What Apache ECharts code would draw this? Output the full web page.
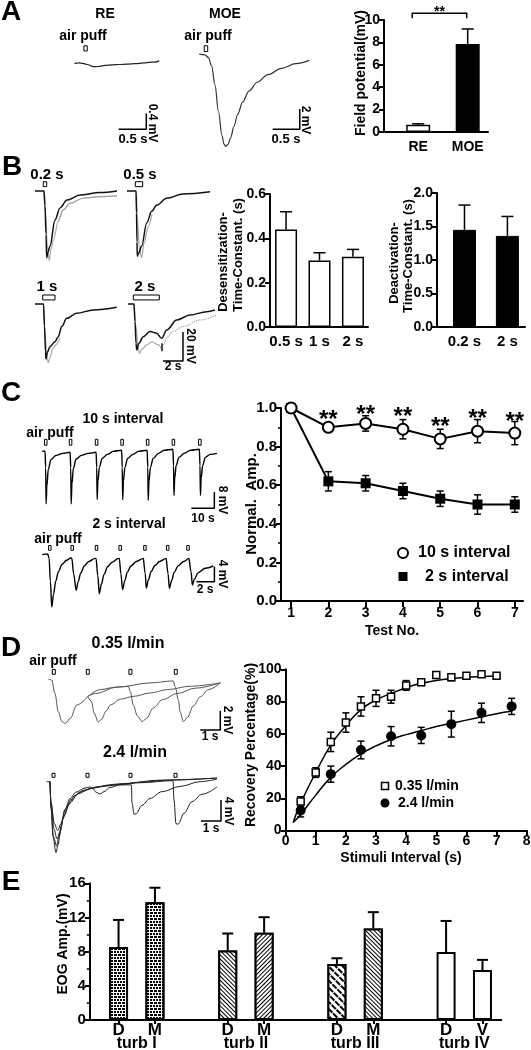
<!DOCTYPE html>
<html>
<head>
<meta charset="utf-8">
<script src="https://cdn.jsdelivr.net/npm/echarts@6.0.0/dist/echarts.min.js"></script>
<style>
html,body{margin:0;padding:0;background:#fff;}
#chart{width:531px;height:1050px;}
</style>
</head>
<body>
<div id="chart"></div>
<script>
// ================= DATA =================
// ---- Panel A ----
const fieldCats = ['RE', 'MOE'];
const fieldMean = [0.65, 7.85];
const fieldErr = [0.08, 1.35];
const fieldSig = [-0.12, 0.98, 10.6, 10.15];          // bracket x0, x1, top, tick end
const reTrace = [[0,0],[0.08,0.01],[0.15,0.0],[0.23,-0.03],[0.34,-0.085],[0.43,-0.08],[0.55,-0.05],[0.68,-0.04],[0.8,-0.03],[0.95,-0.02],[1.1,-0.01],[1.25,0.01],[1.35,0.025],[1.45,0.03],[1.53,0.06]];
const moeTrace = [[0,0],[0.107,-0.07],[0.17,-0.33],[0.23,-1.17],[0.29,-2.99],[0.356,-5.65],[0.42,-7.97],[0.46,-8.85],[0.49,-9.03],[0.53,-8.85],[0.58,-8.2],[0.64,-7.1],[0.71,-5.9],[0.8,-4.7],[0.92,-3.6],[1.07,-2.75],[1.27,-2.0],[1.52,-1.38],[1.78,-0.92],[2.03,-0.6]];
const stimRE = [0.17, 0.06, 0.31, 0.44];              // start(s), duration(s), low, high (mV)
const stimMOE = [0.094, 0.063, 0.26, 0.83];
const scaleRE = [0.796, -1.66, 0.5, 0.4];             // t, v, 0.5 s, 0.4 mV
const scaleMOE = [1.356, -7.37, 0.5, 2];

// ---- Panel B ----
const desCats = ['0.5 s', '1 s', '2 s'];
const desMean = [0.44, 0.30, 0.317];
const desErr = [0.08, 0.035, 0.033];
const deaCats = ['0.2 s', '2 s'];
const deaMean = [1.45, 1.36];
const deaErr = [0.37, 0.29];
const b02Black = [[0,0],[0.9,0],[1.0,-10],[1.1,-30],[1.17,-46],[1.3,-42],[1.5,-38],[2.0,-20],[2.5,-11.7],[3.2,-6.2],[4.5,-2.8],[6.5,-1.1],[8.2,0]];
const b02Gray = [[0.9,0],[1.05,-15],[1.25,-40],[1.43,-48],[1.6,-40],[1.83,-34],[2.33,-21],[2.83,-13],[3.5,-8.5],[4.8,-5],[6.5,-3.9],[8.2,-3.4]];
const b05Black = [[0,0],[0.9,0],[0.95,-15],[1.0,-35],[1.03,-45],[1.15,-43],[1.47,-38],[1.97,-22],[2.47,-14],[2.97,-9.7],[3.97,-5],[5.6,-2],[8.3,-0.5]];
const b05Gray = [[0.95,0],[1.05,-20],[1.25,-40],[1.47,-46],[1.7,-36],[2.13,-24.6],[2.5,-16]];
const b1Black = [[0,0],[0.85,0],[0.95,-15],[1.05,-33],[1.1,-38],[1.25,-33],[1.5,-29.4],[2.0,-26],[2.33,-22.5],[2.67,-15.6],[3.17,-9.9],[4.17,-6.4],[5.83,-4.1],[8.17,-2.3]];
const b1Gray = [[0.85,0],[1.0,-20],[1.2,-37],[1.33,-40.5],[1.5,-37],[1.75,-31],[2.1,-28],[2.5,-23.4]];
const b2Black = [[0,0],[0.6,0],[0.7,-12],[0.8,-27],[0.87,-31.7],[1.1,-27],[1.53,-22.5],[2.2,-19],[2.87,-20.2],[3.37,-23.7],[3.87,-18],[4.87,-11],[6.2,-7.6],[7.87,-5.3],[8.7,-4.1]];
const b2Gray = [[0.6,0],[0.8,-15],[1.0,-30],[1.13,-34],[1.4,-31],[1.9,-28],[2.4,-26],[3.0,-28],[3.4,-31.7]];
const b2GrayTail = [[3.4,-31.7],[3.6,-27],[3.9,-23],[4.5,-19],[5.5,-15.6],[7.2,-11],[8.87,-7.6]];
const b2Arrow = [[3.4,-32.5],[3.4,-27]];
const stimStartB = [0.83, 0.83, 0.77, 0.53];
const stimDurB = [0.34, 0.74, 1.23, 2.6];
const scaleB = [3.5, -39.3, 2, 20];

// ---- Panel C ----
const testNo = [1, 2, 3, 4, 5, 6, 7];
const amp10 = [1.0, 0.90, 0.92, 0.89, 0.84, 0.88, 0.87];
const err10 = [0, 0.02, 0.04, 0.05, 0.05, 0.06, 0.06];
const amp2 = [1.0, 0.62, 0.61, 0.57, 0.53, 0.50, 0.50];
const err2 = [0, 0.05, 0.04, 0.04, 0.04, 0.05, 0.04];
const starY = [null, 0.972, 0.998, 0.986, 0.934, 0.976, 0.964];
const trace10s = [[0,0],[1.2,0],[1.45,-8],[1.65,-25.9],[2.0,-17],[2.6,-9],[3.8,-4],[6,-2],[9,-1],[12.1,-0.5],
  [12.35,-8],[12.55,-25.9],[12.9,-16],[13.5,-8.5],[14.7,-3.8],[17,-2],[20,-1],[23.4,-0.5],
  [23.65,-8],[23.85,-23.7],[24.2,-14.5],[24.8,-8],[26,-3.5],[28.3,-1.5],[31,0],[34.5,0.5],
  [34.75,-8],[34.95,-23.8],[35.3,-14.5],[35.9,-8],[37.1,-3.5],[39.4,-1.5],[42,0],[45.6,0.5],
  [45.85,-8],[46.05,-24.2],[46.4,-14.5],[47,-8],[48.2,-3.5],[50.5,-1],[53,0.5],[56.8,1],
  [57.05,-7],[57.25,-21.7],[57.6,-13],[58.2,-7],[59.4,-3],[61.7,-1],[64.5,0.5],[68.3,1],
  [68.55,-7],[68.75,-21.7],[69.1,-13],[69.7,-7],[70.9,-3],[73,-1.5],[75.9,-1]];
const stim10s = [0.95, 11.75, 23.05, 34.15, 45.25, 56.45, 67.95];
const trace2s = [[0,0],[0.6,0.2],[0.76,-1],[0.9,-7],[1.06,-13.8],[1.25,-10.5],[1.5,-7],[1.8,-4.5],[2.2,-2.6],[2.7,-1.5],[3.2,-0.9],
  [3.3,-1],[3.5,-5],[3.79,-9.4],[4.0,-7.2],[4.3,-4.8],[4.7,-3],[5.2,-1.8],[5.9,-1],
  [6.0,-1],[6.2,-5.5],[6.37,-10.3],[6.6,-7.8],[6.9,-5.2],[7.3,-3.2],[7.8,-2],[8.5,-1],
  [8.6,-1],[8.78,-5],[8.97,-9.2],[9.2,-7],[9.5,-4.6],[9.9,-3],[10.5,-1.8],[11.3,-1],
  [11.36,-1],[11.5,-5],[11.62,-8.8],[11.85,-6.7],[12.15,-4.5],[12.6,-2.8],[13.1,-1.8],[13.85,-1],
  [13.9,-1],[14.05,-5],[14.2,-8.9],[14.45,-6.8],[14.75,-4.6],[15.2,-2.9],[15.8,-1.8],[16.4,-1],
  [16.47,-1],[16.62,-4.5],[16.77,-8.0],[17.0,-6.4],[17.4,-4.8],[18.2,-3.6],[19.1,-3.0]];
const stim2s = [0.7, 3.2, 5.92, 8.56, 11.33, 13.87, 16.14];
const scaleC10 = [64.8, -28, 10, 8];
const scaleC2 = [17.23, -7.13, 2, 4];

// ---- Panel D ----
const intervals035 = [0.5, 1, 1.5, 2, 2.5, 3, 3.5, 4, 4.5, 5, 5.5, 6, 6.5, 7];
const rec035 = [18, 36, 55, 67, 77, 82, 83, 90, 92, 96.5, 95, 96, 97, 96];
const err035 = [3, 3, 6, 6, 6, 5, 4, 3, 2, 0.5, 2, 1, 0.5, 1];
const intervals24 = [0.5, 1.5, 2.5, 3.5, 4.5, 5.5, 6.5, 7.5];
const rec24 = [12.5, 35, 50, 58.5, 59, 66, 73, 77];
const err24 = [4, 5, 5.5, 6, 5, 8, 6, 5];
const fitT035 = [0.25, 0.5, 1, 1.5, 2, 2.5, 3, 3.5, 4, 4.5, 5, 5.5, 6, 6.5, 7];
const fit035 = [5, 17, 36, 53, 65, 75, 81, 85, 88.6, 91.3, 93, 94.2, 95, 95.5, 95.9];
const fitT24 = [0.25, 0.5, 1, 1.5, 2, 2.5, 3, 3.5, 4, 4.5, 5, 5.5, 6, 6.5, 7, 7.5];
const fit24 = [5, 10, 22, 33, 41, 47.5, 52.5, 56.5, 59.5, 62, 64.5, 66.5, 68.5, 70.5, 72.5, 74];
const d035Common = [[0,0],[0.17,-0.1],[0.33,-1.48],[0.5,-3.39],[0.68,-4.43],[0.85,-4.6],[1.1,-4.07],[1.43,-2.69],[1.97,-1.83]];
const d035A = [[1.97,-1.83],[2.15,-2.3],[2.3,-3.6],[2.5,-4.45],[2.65,-4.2],[2.9,-3.3],[3.1,-2.7],[3.6,-2.1],[4.25,-1.8],[5.1,-1.45],[5.95,-1.1],[7.1,-0.75],[8.6,-0.4]];
const d035B = [[1.97,-1.83],[2.6,-1.1],[3.35,-0.85],[4.0,-0.75],[4.1,-1.3],[4.25,-2.7],[4.45,-3.8],[4.7,-4.42],[4.9,-4.1],[5.25,-3.0],[5.7,-2.15],[6.45,-1.5],[7.35,-0.95],[8.6,-0.4]];
const d035C = [[1.97,-1.83],[2.35,-1.5],[3.45,-0.85],[5.1,-0.4],[6.25,-0.2],[6.35,-0.85],[6.5,-2.15],[6.6,-3.45],[6.75,-4.42],[6.95,-4.0],[7.25,-2.8],[7.6,-1.85],[8.0,-1.1],[8.6,-0.4]];
const d24A = [[-0.17,0],[0,0],[0.05,-5],[0.15,-10.5],[0.3,-13.5],[0.4,-12],[0.55,-8.5],[0.75,-5.2],[1.0,-3.2],[1.3,-2],[1.75,-1.2],[2.0,-1],[2.15,-1.3],[2.3,-2],[2.5,-2.35],[2.7,-1.9],[3.0,-1.1],[3.5,-0.6],[4.5,-0.1],[6,0.3],[8.35,0.7]];
const d24B = [[0,0],[0.05,-5],[0.18,-10.5],[0.32,-12.2],[0.45,-10.5],[0.65,-7],[0.9,-4.5],[1.25,-2.6],[1.7,-1.6],[2.5,-0.9],[3.5,-0.6],[4.07,-0.6],[4.1,-4],[4.2,-6.2],[4.3,-6.1],[4.6,-4.5],[5.0,-3.2],[5.6,-1.9],[6.5,-0.9],[7.5,0],[8.35,0.5]];
const d24C = [[0,0],[0.05,-4],[0.2,-9],[0.35,-10.9],[0.5,-9.5],[0.7,-6.5],[1.0,-4],[1.4,-2.3],[2,-1.3],[3,-0.6],[4.5,-0.2],[6.15,0.2],[6.2,-3.5],[6.3,-8],[6.4,-8.1],[6.7,-6],[7.1,-3.8],[7.6,-2.4],[8.35,-1]];
const d24D = [[0,0],[0.05,-4],[0.22,-8],[0.38,-9.3],[0.55,-8],[0.75,-5.5],[1.05,-3.4],[1.5,-2],[2.2,-1.1],[3.5,-0.4],[5.5,0.3],[8.35,0.7]];
const stimD035 = [0.2, 1.9, 4.03, 6.3];
const stimD24 = [0.1, 1.8, 3.95, 6.2];
const scaleD035 = [7.6, -5.28, 1, 2];
const scaleD24 = [7.55, -7.49, 1, 4];

// ---- Panel E ----
const eogLabels = ['D', 'M', 'D', 'M', 'D', 'M', 'D', 'V'];
const eogGroups = ['turb I', 'turb II', 'turb III', 'turb IV'];
const eogMean = [8.54, 13.78, 8.14, 10.2, 6.55, 10.72, 7.94, 5.84];
const eogErr = [3.17, 1.7, 1.98, 1.83, 0.67, 1.9, 3.65, 1.19];
const eogPattern = ['cross', 'cross', 'diagA', 'diagB', 'diagC', 'diagA', 'none', 'none'];

// ================= BUILD =================
const FONT = '"Liberation Sans", Arial, Helvetica, sans-serif';
const grids = [], xAxes = [], yAxes = [], series = [], gfx = [];

function addGrid(g, xa, ya) {
  const i = grids.length;
  grids.push(Object.assign({ containLabel: false, outerBoundsMode: 'none' }, g));
  xAxes.push(Object.assign({ gridIndex: i }, xa));
  yAxes.push(Object.assign({ gridIndex: i }, ya));
  return i;
}
function hiddenAx(min, max) { return { type: 'value', min, max, show: false }; }
function traceGrid(ox, oy, sx, sy, t0, t1, v0, v1) {
  return addGrid({ left: ox + t0 * sx, top: oy - v1 * sy, width: (t1 - t0) * sx, height: (v1 - v0) * sy },
    hiddenAx(t0, t1), hiddenAx(v0, v1));
}
function realAx(o) {
  const ax = {
    type: 'value', min: o.min, max: o.max,
    axisLine: { show: true, onZero: false, lineStyle: { color: '#000', width: 2 } },
    axisTick: { show: o.ticks !== false, length: o.tickLen || 5, lineStyle: { color: '#000', width: 2 } },
    minorTick: { show: !!o.minor, splitNumber: o.minor || 2, length: 3, lineStyle: { color: '#000', width: 1.5 } },
    axisLabel: { show: true, color: '#000', fontWeight: 'bold', fontSize: o.fs || 14, fontFamily: FONT, margin: o.margin || 4, showMinLabel: true, showMaxLabel: true },
    splitLine: { show: false }, minorSplitLine: { show: false }
  };
  if (o.interval != null) ax.interval = o.interval;
  if (o.tickVals) ax.axisTick.customValues = o.tickVals;
  if (o.labelVals) ax.axisLabel.customValues = o.labelVals;
  if (o.fmt) ax.axisLabel.formatter = o.fmt;
  return ax;
}
function traceLine(gi, data, color, width, type) {
  series.push({ type: 'line', xAxisIndex: gi, yAxisIndex: gi, data, symbol: 'none', showSymbol: false,
    smooth: 0.35, smoothMonotone: 'x', lineStyle: { color, width, type: type || 'solid' }, silent: true, clip: false, z: 3, animation: false });
}
function polyLine(gi, data, width, color) {
  series.push({ type: 'line', xAxisIndex: gi, yAxisIndex: gi, data, symbol: 'none', showSymbol: false,
    smooth: false, lineStyle: { color: color || '#000', width }, silent: true, clip: false, z: 3, animation: false });
}
function scaleBar(gi, sb) {
  const [t, v, dt, dv] = sb;
  polyLine(gi, [[t, v], [t + dt, v], [t + dt, v + dv]], 1.5);
}
function stimRects(gi, starts, durs, vLo, vHi) {
  series.push({ type: 'custom', xAxisIndex: gi, yAxisIndex: gi, silent: true, clip: false, z: 4,
    data: starts.map((s, i) => [s, s + (Array.isArray(durs) ? durs[i] : durs), vLo, vHi]),
    encode: { x: [0, 1], y: [2, 3] },
    renderItem(params, api) {
      const a = api.coord([api.value(0), api.value(3)]);
      const b = api.coord([api.value(1), api.value(2)]);
      const w = Math.max(b[0] - a[0], 2.5);
      return { type: 'rect', shape: { x: a[0], y: a[1], width: w, height: b[1] - a[1] },
        style: { fill: '#fff', stroke: '#000', lineWidth: 1 } };
    } });
}
function errBars(gi, rows, cap, both, lw, z) {
  series.push({ type: 'custom', xAxisIndex: gi, yAxisIndex: gi, silent: true, clip: false, z: z || 4,
    data: rows, encode: { x: 0, y: [1, 2] },
    renderItem(params, api) {
      const x = api.value(0), lo = api.value(1), hi = api.value(2);
      const a = api.coord([x, lo]), b = api.coord([x, hi]);
      const st = () => ({ stroke: '#000', lineWidth: lw });
      const ch = [
        { type: 'line', shape: { x1: a[0], y1: a[1], x2: b[0], y2: b[1] }, style: st() },
        { type: 'line', shape: { x1: b[0] - cap / 2, y1: b[1], x2: b[0] + cap / 2, y2: b[1] }, style: st() }];
      if (both) ch.push({ type: 'line', shape: { x1: a[0] - cap / 2, y1: a[1], x2: a[0] + cap / 2, y2: a[1] }, style: st() });
      return { type: 'group', children: ch };
    } });
}
function dataText(gi, rows, textFn, size, dy, z) {
  series.push({ type: 'custom', xAxisIndex: gi, yAxisIndex: gi, silent: true, clip: false, z: z || 6,
    data: rows, encode: { x: 0, y: 1 },
    renderItem(params, api) {
      const p = api.coord([api.value(0), api.value(1)]);
      return { type: 'text', x: p[0], y: p[1] + dy,
        style: { text: textFn(params.dataIndex), font: 'bold ' + size + 'px ' + FONT, fill: '#000', textAlign: 'center', textVerticalAlign: 'middle' } };
    } });
}
function txt(text, x, y, size, rot, align) {
  gfx.push({ type: 'text', x, y, rotation: rot || 0, z: 100, silent: true,
    style: { text, fill: '#000', font: 'bold ' + size + 'px ' + FONT, textAlign: align || 'center', textVerticalAlign: 'middle' } });
}
const UP = Math.PI / 2, DOWN = -Math.PI / 2;

// ---------- Panel A ----------
txt('A', 11, 12, 28);
const gRE = traceGrid(74.5, 63.3, 55.4, 39.8, -0.1, 1.8, -1.9, 0.7);
traceLine(gRE, reTrace, '#222', 1.2);
stimRects(gRE, [stimRE[0]], [stimRE[1]], stimRE[2], stimRE[3]);
scaleBar(gRE, scaleRE);
txt('RE', 105, 14, 14); txt('air puff', 83, 36, 14);
txt('0.5 s', 133, 139, 13); txt('0.4 mV', 152, 123, 12, DOWN);

const gMOE = traceGrid(199.2, 54.2, 54.2, 10.2, -0.1, 2.1, -10, 1.2);
traceLine(gMOE, moeTrace, '#333', 1.2);
stimRects(gMOE, [stimMOE[0]], [stimMOE[1]], stimMOE[2], stimMOE[3]);
scaleBar(gMOE, scaleMOE);
txt('MOE', 225, 14, 14); txt('air puff', 208, 36, 14);
txt('0.5 s', 286, 139, 13); txt('2 mV', 305, 120, 12, DOWN);

const gA = addGrid({ left: 384, top: 20, width: 104, height: 112 },
  realAx({ min: -0.69, max: 1.41, ticks: false, labelVals: [0, 1], fmt: v => fieldCats[Math.round(v)] || '', fs: 14, margin: 8 }),
  realAx({ min: 0, max: 10, interval: 2, fs: 14 }));
series.push({ type: 'bar', xAxisIndex: gA, yAxisIndex: gA, barWidth: 24, silent: true, z: 3,
  data: fieldMean.map((m, i) => ({ value: [i, m], itemStyle: { color: i ? '#000' : '#fff', borderColor: '#000', borderWidth: 1.5 } })) });
errBars(gA, fieldMean.map((m, i) => [i, m, m + fieldErr[i]]), 12, false, 1.5);
series.push({ type: 'custom', xAxisIndex: gA, yAxisIndex: gA, silent: true, clip: false, z: 5,
  data: [fieldSig], encode: { x: [0, 1], y: [2, 3] },
  renderItem(params, api) {
    const x0 = api.value(0), x1 = api.value(1), yt = api.value(2), ye = api.value(3);
    const pts = [api.coord([x0, ye]), api.coord([x0, yt]), api.coord([x1, yt]), api.coord([x1, ye])];
    const mid = api.coord([(x0 + x1) / 2, yt]);
    return { type: 'group', children: [
      { type: 'polyline', shape: { points: pts }, style: { stroke: '#000', lineWidth: 1.5, fill: null } },
      { type: 'text', x: mid[0], y: mid[1] - 1, style: { text: '**', font: 'bold 14px ' + FONT, fill: '#000', textAlign: 'center', textVerticalAlign: 'middle' } }] };
  } });
txt('Field potential(mV)', 361, 73, 14, UP);

// ---------- Panel B ----------
txt('B', 12, 167, 28);
const bOrig = [[35, 191], [127, 191], [35, 304], [128, 304]];
const bBlack = [b02Black, b05Black, b1Black, b2Black];
const bGray = [b02Gray, b05Gray, b1Gray, b2Gray];
const gBs = bOrig.map(o => traceGrid(o[0], o[1], 10, 1.45, -0.2, 9, -52, 8));
gBs.forEach((g, i) => {
  traceLine(g, bGray[i], '#a8a8a8', 1.2);
  traceLine(g, bBlack[i], '#111', 1.5);
  stimRects(g, [stimStartB[i]], [stimDurB[i]], i < 2 ? 3.0 : 2.8, i < 2 ? 6.4 : 6.2);
});
traceLine(gBs[3], b2GrayTail, '#999', 1.2, 'dotted');
traceLine(gBs[0], b02Gray.slice(6), '#999', 1.2, 'dotted');
polyLine(gBs[3], b2Arrow, 1.3);
scaleBar(gBs[3], scaleB);
txt('0.2 s', 47, 175, 15); txt('0.5 s', 140, 175, 15);
txt('1 s', 47, 287, 15); txt('2 s', 145, 287, 15);
txt('20 mV', 190, 346, 12, DOWN); txt('2 s', 173, 367, 12);

const gDes = addGrid({ left: 270, top: 194, width: 98, height: 133 },
  realAx({ min: -0.48, max: 2.45, ticks: false, labelVals: [0, 1, 2], fmt: v => desCats[Math.round(v)] || '', fs: 15, margin: 7 }),
  realAx({ min: 0, max: 0.6, interval: 0.2, fmt: v => v.toFixed(1), fs: 14 }));
series.push({ type: 'bar', xAxisIndex: gDes, yAxisIndex: gDes, barWidth: 22, silent: true, z: 3,
  data: desMean.map((m, i) => [i, m]), itemStyle: { color: '#fff', borderColor: '#000', borderWidth: 1.5 } });
errBars(gDes, desMean.map((m, i) => [i, m, m + desErr[i]]), 12, false, 1.5);
txt('Desensitization-', 223, 262, 13, UP);
txt('Time-Constant. (s)', 238, 255, 13, UP);

const gDea = addGrid({ left: 437, top: 193, width: 88, height: 134 },
  realAx({ min: -0.64, max: 1.41, ticks: false, labelVals: [0, 1], fmt: v => deaCats[Math.round(v)] || '', fs: 15, margin: 7 }),
  realAx({ min: 0, max: 2, interval: 0.5, fmt: v => v.toFixed(1), fs: 14 }));
series.push({ type: 'bar', xAxisIndex: gDea, yAxisIndex: gDea, barWidth: 23, silent: true, z: 3,
  data: deaMean.map((m, i) => [i, m]), itemStyle: { color: '#000', borderColor: '#000', borderWidth: 1 } });
errBars(gDea, deaMean.map((m, i) => [i, m, m + deaErr[i]]), 12, false, 1.5);
txt('Deactivation-', 394, 263, 13, UP);
txt('Time-Constant. (s)', 408, 256, 13, UP);

// ---------- Panel C ----------
txt('C', 11, 393, 28);
const gC10 = traceGrid(42.3, 451.3, 2.3, 2.03, -0.5, 77, -30, 7);
traceLine(gC10, trace10s, '#000', 1.4);
stimRects(gC10, stim10s, 1.1, 3.0, 5.9);
scaleBar(gC10, scaleC10);
const gC2 = traceGrid(42.3, 554.6, 8.95, 3.8, -0.3, 19.5, -15, 3);
traceLine(gC2, trace2s, '#000', 1.4);
stimRects(gC2, stim2s, 0.28, 1.16, 2.4);
scaleBar(gC2, scaleC2);
txt('10 s interval', 123, 419, 14); txt('air puff', 50, 433, 14);
txt('8 mV', 222, 500, 12, DOWN); txt('10 s', 203, 519, 12);
txt('2 s interval', 129, 524, 14); txt('air puff', 58, 539, 14);
txt('4 mV', 222, 574, 12, DOWN); txt('2 s', 205, 590, 12);

const gC = addGrid({ left: 281, top: 408, width: 242, height: 193 },
  realAx({ min: 0.73, max: 7.22, tickVals: testNo, labelVals: testNo, fs: 14, tickLen: 6, margin: 5 }),
  realAx({ min: 0, max: 1, interval: 0.2, minor: 2, fmt: v => v.toFixed(1), fs: 15 }));
series.push({ type: 'line', xAxisIndex: gC, yAxisIndex: gC, data: testNo.map((x, i) => [x, amp2[i]]),
  symbol: 'rect', symbolSize: 10, showSymbol: true, itemStyle: { color: '#000' }, lineStyle: { color: '#000', width: 2 }, z: 5, silent: true });
errBars(gC, testNo.map((x, i) => [x, amp2[i] - err2[i], amp2[i] + err2[i]]), 7, true, 1.5, 4);
errBars(gC, testNo.map((x, i) => [x, amp10[i] - err10[i], amp10[i] + err10[i]]), 7, true, 1.5, 6);
series.push({ type: 'line', xAxisIndex: gC, yAxisIndex: gC, data: testNo.map((x, i) => [x, amp10[i]]),
  symbol: 'circle', symbolSize: 11, showSymbol: true, itemStyle: { color: '#fff', borderColor: '#000', borderWidth: 2 }, lineStyle: { color: '#000', width: 2 }, z: 7, silent: true });
dataText(gC, testNo.map((x, i) => [x, starY[i]]).filter(r => r[1] != null), () => '**', 24, 7, 8);
txt('Normal.  Amp.', 252, 504, 15, UP);
txt('Test No.', 392, 631, 14);
gfx.push({ type: 'circle', shape: { cx: 403, cy: 553, r: 5 }, style: { fill: '#fff', stroke: '#000', lineWidth: 2 }, z: 100 });
gfx.push({ type: 'rect', shape: { x: 398.5, y: 572, width: 9, height: 9 }, style: { fill: '#000' }, z: 100 });
txt('10 s interval', 418, 553, 16, 0, 'left');
txt('2 s interval', 425, 577, 16, 0, 'left');

// ---------- Panel D ----------
txt('D', 11, 648, 28);
const gD1 = traceGrid(48.3, 679, 20, 9.65, -0.2, 8.7, -5.6, 1.2);
[d035Common, d035A, d035B, d035C].forEach(d => traceLine(gD1, d, '#555', 1));
stimRects(gD1, stimD035, 0.15, 0.49, 1.0);
scaleBar(gD1, scaleD035);
const gD2 = traceGrid(50, 781.7, 20, 5.25, -0.3, 8.6, -14, 2);
[d24A, d24B, d24C, d24D].forEach(d => traceLine(gD2, d, '#222', 1));
stimRects(gD2, stimD24, 0.15, 0.84, 1.6);
scaleBar(gD2, scaleD24);
txt('0.35 l/min', 128, 644, 16); txt('air puff', 53, 661, 14);
txt('2 mV', 227, 720, 12, DOWN); txt('1 s', 210, 737, 12);
txt('2.4 l/min', 135, 753, 16);
txt('4 mV', 228, 811, 12, DOWN); txt('1 s', 211, 829, 12);

const gD = addGrid({ left: 285.6, top: 669.3, width: 241.1, height: 161.3 },
  realAx({ min: 0, max: 8, interval: 1, fs: 14, margin: 4 }),
  realAx({ min: 0, max: 100, interval: 20, fs: 14 }));
series.push({ type: 'line', xAxisIndex: gD, yAxisIndex: gD, data: fitT035.map((t, i) => [t, fit035[i]]), symbol: 'none', smooth: 0.5, lineStyle: { color: '#000', width: 1.5 }, z: 3, silent: true });
series.push({ type: 'line', xAxisIndex: gD, yAxisIndex: gD, data: fitT24.map((t, i) => [t, fit24[i]]), symbol: 'none', smooth: 0.5, lineStyle: { color: '#000', width: 1.5 }, z: 3, silent: true });
errBars(gD, intervals035.map((t, i) => [t, rec035[i] - err035[i], rec035[i] + err035[i]]), 7, true, 1.5, 4);
errBars(gD, intervals24.map((t, i) => [t, rec24[i] - err24[i], rec24[i] + err24[i]]), 7, true, 1.5, 4);
series.push({ type: 'scatter', xAxisIndex: gD, yAxisIndex: gD, data: intervals035.map((t, i) => [t, rec035[i]]), symbol: 'rect', symbolSize: 7, itemStyle: { color: '#fff', borderColor: '#000', borderWidth: 1.5, opacity: 1 }, z: 6, silent: true });
series.push({ type: 'scatter', xAxisIndex: gD, yAxisIndex: gD, data: intervals24.map((t, i) => [t, rec24[i]]), symbol: 'circle', symbolSize: 10, itemStyle: { color: '#000', opacity: 1 }, z: 6, silent: true });
txt('Recovery Percentage(%)', 251, 745, 14, UP);
txt('Stimuli Interval (s)', 401, 858, 14);
gfx.push({ type: 'rect', shape: { x: 381.5, y: 782.5, width: 7, height: 7 }, style: { fill: '#fff', stroke: '#000', lineWidth: 1.5 }, z: 100 });
gfx.push({ type: 'circle', shape: { cx: 385, cy: 803, r: 4.5 }, style: { fill: '#000' }, z: 100 });
txt('0.35 l/min', 395, 786, 14, 0, 'left');
txt('2.4 l/min', 398, 803, 14, 0, 'left');

// ---------- Panel E ----------
txt('E', 11, 882, 28);
const eogPos = eogLabels.map((_, i) => Math.floor(i / 2) * 3 + (i % 2));
function decalFor(p) {
  if (p === 'cross') return { symbol: 'rect', symbolSize: 1, dashArrayX: [[2, 1], [0.5, 1, 1.5, 0]], dashArrayY: [1.5, 0.8], color: '#000', backgroundColor: '#fff' };
  if (p === 'diagA') return { symbol: 'rect', symbolSize: 1, dashArrayX: [1, 0], dashArrayY: [1, 2], rotation: Math.PI / 4, color: '#000', backgroundColor: '#fff' };
  if (p === 'diagB') return { symbol: 'rect', symbolSize: 1, dashArrayX: [1, 0], dashArrayY: [1, 2], rotation: -Math.PI / 4, color: '#000', backgroundColor: '#fff' };
  if (p === 'diagC') return { symbol: 'rect', symbolSize: 1, dashArrayX: [6, 1], dashArrayY: [1.2, 2.2], rotation: Math.PI / 4, color: '#000', backgroundColor: '#fff' };
  return null;
}
const gE = addGrid({ left: 89.8, top: 883.3, width: 411.6, height: 136.6 },
  realAx({ min: -0.79, max: 10.52, tickVals: eogPos, labelVals: eogPos, fmt: v => eogLabels[eogPos.indexOf(Math.round(v))] || '', fs: 17, margin: 2, tickLen: 4 }),
  realAx({ min: 0, max: 16, interval: 4, minor: 2, fs: 15 }));
series.push({ type: 'bar', xAxisIndex: gE, yAxisIndex: gE, barWidth: 19, silent: true, z: 3,
  data: eogMean.map((m, i) => {
    const d = decalFor(eogPattern[i]);
    const st = { color: '#fff', borderColor: '#000', borderWidth: 2 };
    if (d) st.decal = d;
    return { value: [eogPos[i], m], itemStyle: st };
  }) });
errBars(gE, eogMean.map((m, i) => [eogPos[i], m, m + eogErr[i]]), 11, false, 2);
dataText(gE, eogGroups.map((g, i) => [i * 3 + 0.5, 0]), i => eogGroups[i], 16, 23.5);
txt('EOG Amp.(mV)', 63, 944, 14, UP);

// ---------- RENDER ----------
const chart = echarts.init(document.getElementById('chart'), null, { renderer: 'canvas', width: 531, height: 1050 });
chart.setOption({
  animation: false,
  backgroundColor: '#fff',
  textStyle: { fontFamily: FONT },
  grid: grids, xAxis: xAxes, yAxis: yAxes, series, graphic: gfx
});
</script>
</body>
</html>
